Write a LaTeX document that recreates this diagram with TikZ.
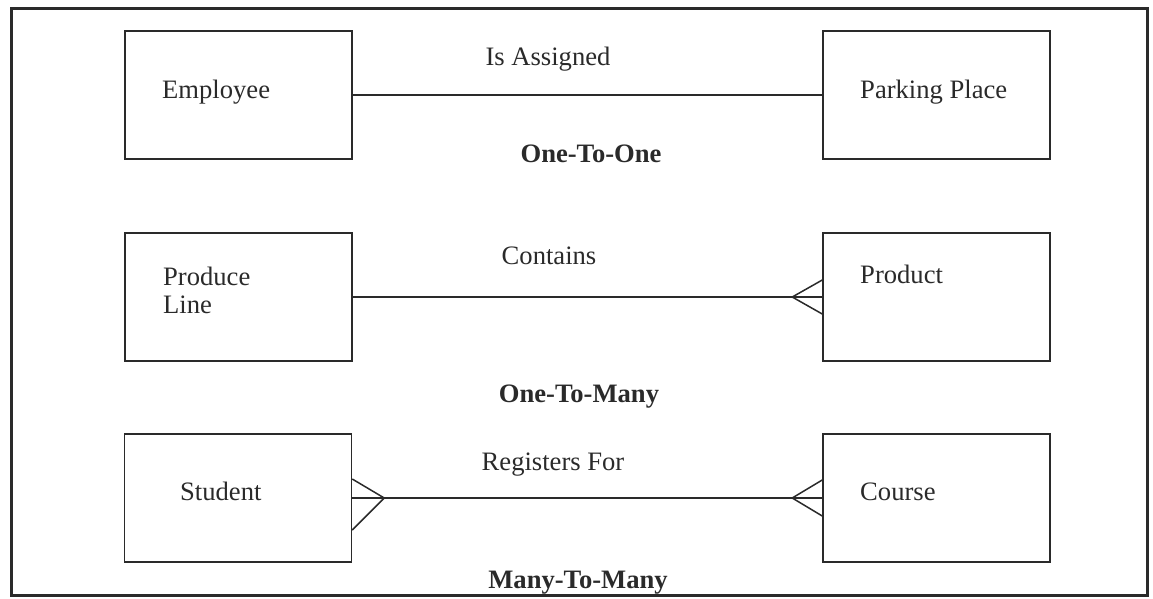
\documentclass[tikz,border=0pt]{standalone}
\usepackage{fontspec}
\setmainfont{Liberation Serif}
\usetikzlibrary{calc}
\definecolor{ink}{HTML}{2A2A2A}
\begin{document}
\begin{tikzpicture}[x=1pt,y=-1pt,
  ent/.style={draw=ink, line width=1.5pt, minimum width=227pt, minimum height=128pt, inner sep=0pt},
  txt/.style={text=ink, font=\fontsize{26.6}{28}\selectfont, inner sep=0pt},
  btxt/.style={text=ink, font=\fontsize{26.6}{28}\selectfont\bfseries, inner sep=0pt},
  rel/.style={draw=ink, line width=1.5pt},
  crow/.style={draw=ink, line width=1.5pt, line join=miter}]
\useasboundingbox (0,0) rectangle (1153,598);
\draw[ink, line width=3pt] (11,8) rectangle (1147,595);

% row 1
\node[ent] (emp) at (238.5,95) {};
\node[ent] (park) at (936.5,95) {};
\node[txt, anchor=base west] (empT) at (162,98) {Employee};
\node[txt, anchor=base west] (parkT) at (860,98) {Parking Place};
\draw[rel] (emp.east) -- (park.west);
\node[txt, anchor=base] (r1) at (548,65) {Is Assigned};
\node[btxt, anchor=base] (c1) at (591,162) {One-To-One};

% row 2
\node[ent] (pl) at (238.5,297) {};
\node[ent] (prod) at (936.5,297) {};
\node[txt, anchor=base west, align=left] (plT) at (163,285) {Produce};
\node[txt, anchor=base west] (plT2) at (163,313) {Line};
\node[txt, anchor=base west] (prodT) at (860,283) {Product};
\draw[rel] (pl.east) -- (prod.west);
\draw[crow] ($(prod.west)+(0,-17)$) -- ($(prod.west)+(-30,0)$) -- ($(prod.west)+(0,17)$);
\node[txt, anchor=base] (r2) at (549,264) {Contains};
\node[btxt, anchor=base] (c2) at (579,402) {One-To-Many};

% row 3
\node[ent] (stu) at (238,498) {};
\node[ent] (crs) at (936.5,498) {};
\node[txt, anchor=base west] (stuT) at (180,500) {Student};
\node[txt, anchor=base west] (crsT) at (860,500) {Course};
\draw[rel] (stu.east) -- (crs.west);
\draw[crow] ($(stu.east)+(0,-19)$) -- ($(stu.east)+(32,0)$) -- ($(stu.east)+(0,32)$);
\draw[crow] ($(crs.west)+(0,-18)$) -- ($(crs.west)+(-30,0)$) -- ($(crs.west)+(0,18)$);
\node[txt, anchor=base] (r3) at (553,470) {Registers For};
\node[btxt, anchor=base] (c3) at (578,588) {Many-To-Many};
\end{tikzpicture}
\end{document}
